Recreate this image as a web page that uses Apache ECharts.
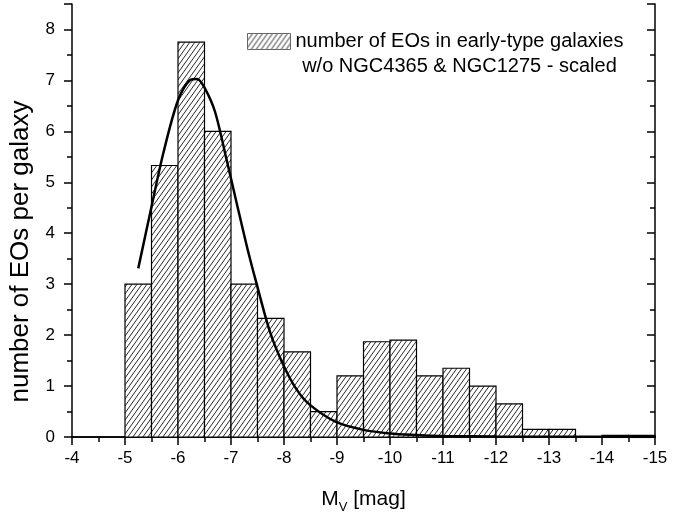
<!DOCTYPE html>
<html>
<head>
<meta charset="utf-8">
<script src="https://cdn.jsdelivr.net/npm/echarts@6/dist/echarts.min.js"></script>
<style>
  html, body { margin: 0; padding: 0; background: #fff; }
  #chart { width: 696px; height: 519px; }
</style>
</head>
<body>
<div id="chart"></div>
<script>
// Histogram bins (centre magnitude of each 0.5 mag bin) and scaled counts
var binCenters = [-5.25, -5.75, -6.25, -6.75, -7.25, -7.75, -8.25, -8.75, -9.25, -9.75,
                  -10.25, -10.75, -11.25, -11.75, -12.25, -12.75, -13.25, -13.75, -14.25, -14.75];
var binCounts = [3.0, 5.33, 7.75, 6.0, 3.0, 2.33, 1.67, 0.5, 1.2, 1.87,
                 1.9, 1.2, 1.35, 1.0, 0.65, 0.15, 0.15, 0, 0.03, 0.03];
var binWidth = 0.5;

// Fitted luminosity function
var fitMag = [-5.25, -5.5, -5.72, -6.0, -6.23, -6.36, -6.51, -6.7, -6.92, -7.11, -7.3, -7.48,
              -7.74, -7.99, -8.24, -8.49, -8.99, -9.5, -10.0, -10.5, -11.0, -12.0, -13.0, -15.0];
var fitVal = [3.31, 4.52, 5.56, 6.61, 7.01, 7.03, 6.84, 6.38, 5.43, 4.58, 3.74, 3.02,
              2.05, 1.41, 0.93, 0.63, 0.29, 0.14, 0.07, 0.04, 0.02, 0.01, 0.005, 0.002];

var xTicks = [-4, -5, -6, -7, -8, -9, -10, -11, -12, -13, -14, -15];
var yTicks = [0, 1, 2, 3, 4, 5, 6, 7, 8];

var histName = 'number of EOs in early-type galaxies\nw/o NGC4365 & NGC1275 - scaled';

// diagonal hatch fill
function makeHatch() {
  var w = 5, h = 7;
  var c = document.createElement('canvas');
  c.width = w; c.height = h;
  var g = c.getContext('2d');
  g.fillStyle = '#fff';
  g.fillRect(0, 0, w, h);
  g.strokeStyle = '#111';
  g.lineWidth = 0.9;
  g.beginPath();
  for (var k = -1; k <= 1; k++) {
    g.moveTo(k * w, h);
    g.lineTo(k * w + w, 0);
  }
  g.stroke();
  return c;
}
var hatch = { image: makeHatch(), repeat: 'repeat' };

var histData = binCenters.map(function (m, i) { return [m, binCounts[i]]; });
var fitData = fitMag.map(function (m, i) { return [m, fitVal[i]]; });

var font = 'Liberation Sans, Arial, sans-serif';
var chart = echarts.init(document.getElementById('chart'), null, { renderer: 'canvas' });

var baseX = {
  type: 'value', min: -15, max: -4, interval: 1, inverse: true,
  splitLine: { show: false },
  axisLine: { show: true, lineStyle: { color: '#000', width: 1.5 } }
};
var baseY = {
  type: 'value', min: 0, max: 8.5, interval: 1,
  splitLine: { show: false },
  axisLine: { show: true, lineStyle: { color: '#000', width: 1.5 } }
};

chart.setOption({
  animation: false,
  backgroundColor: '#fff',
  grid: { left: 72, right: 41, top: 4, bottom: 82 },
  legend: {
    data: [histName],
    left: 242, top: 26,
    itemWidth: 43, itemHeight: 16,
    icon: 'rect',
    itemGap: 5,
    selectedMode: false,
    itemStyle: { borderColor: '#666', borderWidth: 1 },
    formatter: function () {
      return '{a|number of EOs in early-type galaxies}\n{a|w/o NGC4365 & NGC1275 - scaled}';
    },
    textStyle: {
      padding: [24, 0, 0, 0],
      rich: {
        a: { fontFamily: font, fontSize: 20, color: '#000', align: 'center', lineHeight: 25 }
      }
    }
  },
  xAxis: [
    Object.assign({}, baseX, {
      position: 'bottom',
      name: 'M{sub|V} [mag]',
      nameLocation: 'middle',
      nameGap: 48,
      nameTextStyle: {
        fontFamily: font, fontSize: 21, color: '#000',
        rich: { sub: { fontFamily: font, fontSize: 13, color: '#000', verticalAlign: 'bottom', padding: [16, 0, 0, 0] } }
      },
      axisTick: { show: true, inside: false, length: 8, lineStyle: { color: '#000', width: 1.5 } },
      minorTick: { show: true, splitNumber: 2, length: 5, lineStyle: { color: '#000', width: 1.5 } },
      axisLabel: {
        fontFamily: font, fontSize: 17, color: '#000', margin: 13,
        formatter: function (v) { return xTicks.indexOf(v) >= 0 ? String(v) : ''; }
      }
    }),
    Object.assign({}, baseX, {
      position: 'top',
      axisTick: { show: true, inside: true, length: 8, lineStyle: { color: '#000', width: 1.5 } },
      minorTick: { show: true, splitNumber: 2, length: 5, lineStyle: { color: '#000', width: 1.5 } },
      axisLabel: { show: false }
    })
  ],
  yAxis: [
    Object.assign({}, baseY, {
      position: 'left',
      name: 'number of EOs per galaxy',
      nameLocation: 'middle',
      nameGap: 38,
      nameTextStyle: { fontFamily: font, fontSize: 26, color: '#000', padding: [0, 62, 0, 0] },
      axisTick: { show: true, inside: false, length: 8, lineStyle: { color: '#000', width: 1.5 } },
      minorTick: { show: true, splitNumber: 2, length: 5, lineStyle: { color: '#000', width: 1.5 } },
      axisLabel: {
        fontFamily: font, fontSize: 17, color: '#000', margin: 17,
        formatter: function (v) { return yTicks.indexOf(v) >= 0 ? String(v) : ''; }
      }
    }),
    Object.assign({}, baseY, {
      position: 'right',
      axisTick: { show: true, inside: true, length: 8, lineStyle: { color: '#000', width: 1.5 } },
      minorTick: { show: true, splitNumber: 2, length: 5, lineStyle: { color: '#000', width: 1.5 } },
      axisLabel: { show: false }
    })
  ],
  series: [
    {
      name: histName,
      type: 'custom',
      xAxisIndex: 0, yAxisIndex: 0,
      itemStyle: { color: hatch, borderColor: '#000', borderWidth: 1.2 },
      renderItem: function (params, api) {
        var m = api.value(0), v = api.value(1);
        if (v <= 0) return null;
        var p0 = api.coord([m + binWidth / 2, v]);
        var p1 = api.coord([m - binWidth / 2, 0]);
        return {
          type: 'rect',
          shape: { x: p0[0], y: p0[1], width: p1[0] - p0[0], height: p1[1] - p0[1] },
          style: { fill: hatch, stroke: '#000', lineWidth: 1.2 }
        };
      },
      encode: { x: 0, y: 1 },
      data: histData,
      z: 2
    },
    {
      name: 'fit',
      type: 'line',
      xAxisIndex: 0, yAxisIndex: 0,
      data: fitData,
      smooth: 0.3,
      showSymbol: false,
      lineStyle: { color: '#000', width: 2.5 },
      z: 3
    }
  ]
});
</script>
</body>
</html>
